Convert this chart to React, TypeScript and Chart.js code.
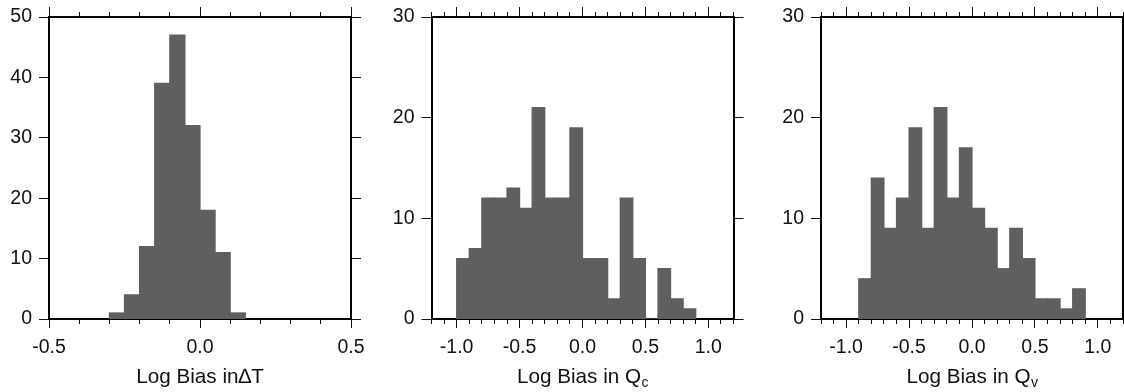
import React, { useEffect, useRef } from "react";
import { Chart, registerables } from "chart.js";

Chart.register(...registerables);

const FONT = "'Liberation Sans', Arial, Helvetica, sans-serif";

// ---------- Panel 1: Log Bias in ΔT ----------
const dtBinStarts = [-0.3, -0.25, -0.2, -0.15, -0.1, -0.05, 0.0, 0.05, 0.1];
const dtCounts = [1, 4, 12, 39, 47, 32, 18, 11, 1];
const dtBinWidth = 0.05;
const dtXRange = [-0.5, 0.5];
const dtXLabels = [-0.5, 0.0, 0.5];
const dtYTicks = [0, 10, 20, 30, 40, 50];

// ---------- Panel 2: Log Bias in Qc ----------
const qcBinStarts = [-1.0, -0.9, -0.8, -0.7, -0.6, -0.5, -0.4, -0.3, -0.2, -0.1, 0.0, 0.1, 0.2, 0.3, 0.4, 0.5, 0.6, 0.7, 0.8];
const qcCounts = [6, 7, 12, 12, 13, 11, 21, 12, 12, 19, 6, 6, 2, 12, 6, 0, 5, 2, 1];
const qcBinWidth = 0.1;
const qcXRange = [-1.2, 1.2];
const qcXLabels = [-1.0, -0.5, 0.0, 0.5, 1.0];
const qcYTicks = [0, 10, 20, 30];

// ---------- Panel 3: Log Bias in Qv ----------
const qvBinStarts = [-0.9, -0.8, -0.7, -0.6, -0.5, -0.4, -0.3, -0.2, -0.1, 0.0, 0.1, 0.2, 0.3, 0.4, 0.5, 0.6, 0.7, 0.8];
const qvCounts = [4, 14, 9, 12, 19, 9, 21, 12, 17, 11, 9, 5, 9, 6, 2, 2, 1, 3];
const qvBinWidth = 0.1;
const qvXRange = [-1.2, 1.2];
const qvXLabels = [-1.0, -0.5, 0.0, 0.5, 1.0];
const qvYTicks = [0, 10, 20, 30];

const xMinorStep = 0.1;

const panels = [
  { starts: dtBinStarts, counts: dtCounts, binWidth: dtBinWidth, xRange: dtXRange, xLabels: dtXLabels, yTicks: dtYTicks, title: "Log Bias in\u2206T", sub: "" },
  { starts: qcBinStarts, counts: qcCounts, binWidth: qcBinWidth, xRange: qcXRange, xLabels: qcXLabels, yTicks: qcYTicks, title: "Log Bias in Q", sub: "c" },
  { starts: qvBinStarts, counts: qvCounts, binWidth: qvBinWidth, xRange: qvXRange, xLabels: qvXLabels, yTicks: qvYTicks, title: "Log Bias in Q", sub: "v" },
];

// plot-area rectangles (page pixels)
const layouts = [
  { left: 49, right: 351, top: 17, bottom: 319 },
  { left: 431.5, right: 733.5, top: 17, bottom: 319 },
  { left: 821, right: 1123, top: 17, bottom: 319 },
];

const W = 1124;
const H = 392;
const BAR = "#5f5f5f";
const FRAME = "#000";
const TICK = "#111";
const TEXT = "#111";
const TICK_FONT_SIZE = 19.5;
const TITLE_FONT_SIZE = 20.7;
const SUB_FONT_SIZE = 14;

const titlePlugin = {
  id: "subTitle",
  afterDraw(chart: any, _args: any, opts: any) {
    const { ctx, chartArea } = chart;
    ctx.save();
    const mainFont = `${TITLE_FONT_SIZE}px ${FONT}`;
    const subFont = `${SUB_FONT_SIZE}px ${FONT}`;
    ctx.font = mainFont;
    const w1 = ctx.measureText(opts.main).width;
    ctx.font = subFont;
    const w2 = opts.sub ? ctx.measureText(opts.sub).width : 0;
    const cx = (chartArea.left + chartArea.right) / 2;
    const x0 = cx - (w1 + w2) / 2;
    ctx.fillStyle = TEXT;
    ctx.textAlign = "left";
    ctx.textBaseline = "alphabetic";
    ctx.font = mainFont;
    ctx.fillText(opts.main, x0, opts.y);
    if (opts.sub) {
      ctx.font = subFont;
      ctx.fillText(opts.sub, x0 + w1 + 0.5, opts.y + opts.subDrop);
    }
    ctx.restore();
  },
};

const clearPad = (s: any) => {
  s.paddingLeft = 0;
  s.paddingRight = 0;
  s.paddingTop = 0;
  s.paddingBottom = 0;
};
const fixH = (h: number) => (s: any) => {
  s.height = h;
  clearPad(s);
};
const fixW = (w: number) => (s: any) => {
  s.width = w;
  clearPad(s);
};

function buildConfig(p: any, l: any): any {
  const isMajor = (v: number) => p.xLabels.some((m: number) => Math.abs(m - v) < 1e-6);
  const majorColor = (c: any) => (c.tick && isMajor(c.tick.value) ? TICK : "rgba(0,0,0,0)");
  const tickFont = { family: FONT, size: TICK_FONT_SIZE };
  const setYTicks = (s: any) => {
    s.ticks = p.yTicks.map((v: number) => ({ value: v }));
  };
  const xBase = (position: string, extra: any) => ({
    type: "linear",
    axis: "x",
    position,
    min: p.xRange[0],
    max: p.xRange[1],
    offset: false,
    ...extra,
  });
  const xTicks = { stepSize: xMinorStep, maxTicksLimit: 100, autoSkip: false, maxRotation: 0, minRotation: 0 };
  const yMax = p.yTicks[p.yTicks.length - 1];
  const bottomSpace = H - l.bottom;

  return {
    type: "bar",
    data: {
      datasets: [
        {
          data: p.starts.map((s: number, i: number) => ({ x: s + p.binWidth / 2, y: p.counts[i] })),
          backgroundColor: BAR,
          borderWidth: 0,
          inflateAmount: 0.6,
          barPercentage: 1,
          categoryPercentage: 1,
          xAxisID: "x",
          yAxisID: "y",
        },
      ],
    },
    options: {
      responsive: false,
      animation: false,
      events: [],
      layout: { padding: { left: 0, right: W - l.right, top: l.top, bottom: 0 } },
      plugins: {
        legend: { display: false },
        tooltip: { enabled: false },
        subTitle: { main: p.title, sub: p.sub, y: 383, subDrop: 4 },
      },
      scales: {
        xMinor: xBase("bottom", {
          weight: -1,
          afterFit: fixH(0),
          grid: { display: true, offset: false, drawOnChartArea: false, drawTicks: true, tickLength: 5, tickWidth: 1, tickColor: TICK },
          border: { display: false },
          ticks: { ...xTicks, display: false },
        }),
        x: xBase("bottom", {
          weight: 1,
          afterFit: fixH(bottomSpace),
          grid: { display: true, offset: false, drawOnChartArea: false, drawTicks: true, tickLength: 9, tickWidth: 1, tickColor: majorColor },
          border: { display: true, color: FRAME, width: 2 },
          ticks: {
            ...xTicks,
            padding: 8,
            color: TEXT,
            font: tickFont,
            callback: (v: any) => (isMajor(+v) ? (+v).toFixed(1) : ""),
          },
        }),
        xTop: xBase("top", {
          afterFit: fixH(0),
          grid: { display: true, offset: false, drawOnChartArea: false, drawTicks: true, tickLength: 10, tickWidth: 1, tickColor: majorColor },
          border: { display: true, color: FRAME, width: 2 },
          ticks: { ...xTicks, display: false },
        }),
        xTopMinor: xBase("top", {
          afterFit: fixH(0),
          grid: { display: true, offset: false, drawOnChartArea: false, drawTicks: true, tickLength: 5, tickWidth: 1, tickColor: TICK },
          border: { display: false },
          ticks: { ...xTicks, display: false },
        }),
        y: {
          type: "linear",
          axis: "y",
          position: "left",
          min: 0,
          max: yMax,
          afterFit: fixW(l.left),
          afterBuildTicks: setYTicks,
          grid: { display: true, drawOnChartArea: false, drawTicks: true, tickLength: 10, tickWidth: 1, tickColor: TICK },
          border: { display: true, color: FRAME, width: 2 },
          ticks: { padding: 7, color: TEXT, font: tickFont, callback: (v: any) => String(v) },
        },
        yRight: {
          type: "linear",
          axis: "y",
          position: "right",
          min: 0,
          max: yMax,
          afterFit: fixW(0),
          afterBuildTicks: setYTicks,
          grid: { display: true, drawOnChartArea: false, drawTicks: true, tickLength: 10, tickWidth: 1, tickColor: TICK },
          border: { display: true, color: FRAME, width: 2 },
          ticks: { display: false },
        },
      },
    },
    plugins: [titlePlugin],
  };
}

function Panel({ index }: { index: number }) {
  const ref = useRef<HTMLCanvasElement>(null);
  useEffect(() => {
    if (!ref.current) return;
    const chart = new Chart(ref.current, buildConfig(panels[index], layouts[index]));
    return () => chart.destroy();
  }, [index]);
  return (
    <canvas
      ref={ref}
      width={W}
      height={H}
      style={{ position: "absolute", left: 0, top: 0, width: W, height: H }}
    />
  );
}

export default function App() {
  return (
    <div style={{ position: "fixed", left: 0, top: 0, width: W, height: H, background: "#fff", overflow: "hidden" }}>
      {panels.map((_, i) => (
        <Panel key={i} index={i} />
      ))}
    </div>
  );
}
